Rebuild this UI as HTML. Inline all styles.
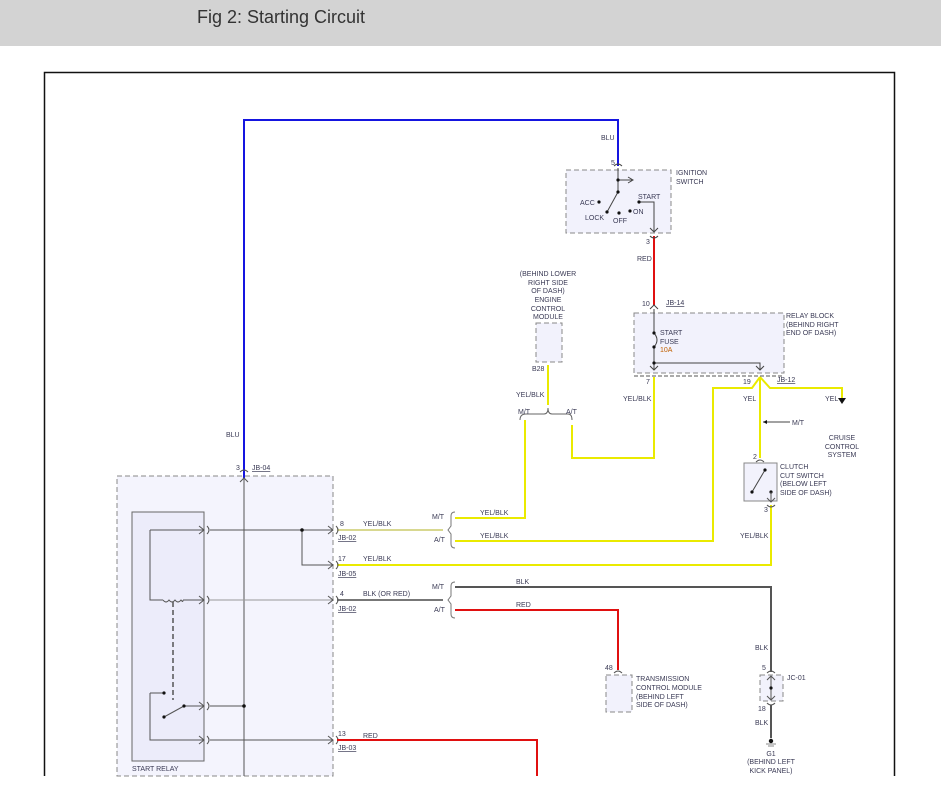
<!DOCTYPE html>
<html><head><meta charset="utf-8"><style>
html,body{margin:0;padding:0;background:#fff;width:941px;height:804px;overflow:hidden}
.hdr{position:absolute;left:0;top:0;width:941px;height:46px;background:#d3d3d3}
.hdr span{position:absolute;left:197px;top:7px;font:18px "Liberation Sans",sans-serif;color:#333}
svg{position:absolute;left:0;top:0}
text{font-family:"Liberation Sans",sans-serif;font-size:7px;fill:#3a3a55}
</style></head><body>
<div class="hdr"><span>Fig 2: Starting Circuit</span></div>
<svg width="941" height="804" viewBox="0 0 941 804">
<!-- frame -->
<path d="M44.5 776 V72.5 H894.5 V776" fill="none" stroke="#111" stroke-width="1.5"/>
<!-- boxes -->
<rect x="566" y="170" width="105" height="63" fill="#f2f2fc" stroke="#888" stroke-dasharray="5,3"/>
<rect x="634" y="313" width="150" height="60" fill="#f2f2fc" stroke="#888" stroke-dasharray="5,3"/>
<rect x="536" y="323" width="26" height="39" fill="#f2f2fc" stroke="#888" stroke-dasharray="5,3"/>
<rect x="744" y="463" width="33" height="38" fill="#f2f2fc" stroke="#888"/>
<rect x="606" y="675" width="26" height="37" fill="#f2f2fc" stroke="#888" stroke-dasharray="5,3"/>
<rect x="760" y="675" width="23" height="26" fill="#f2f2fc" stroke="#888" stroke-dasharray="5,3"/>
<rect x="117" y="476" width="216" height="300" fill="#f4f4fd" stroke="#888" stroke-dasharray="5,3"/>
<rect x="132" y="512" width="72" height="249" fill="#ececfa" stroke="#666"/>

<!-- blue wire -->
<path d="M244 478 V120 H618 V166" fill="none" stroke="#1515e0" stroke-width="2"/>
<!-- red ignition -->
<path d="M654 236 V305" stroke="#e01010" stroke-width="2"/>
<!-- ignition switch internals -->
<g stroke="#444" fill="none" stroke-width="1">
<path d="M618 168 V192 M618 180 H632"/>
<path d="M628 177 L633 180 L628 183"/>
<path d="M618 192 L607 212"/>
<path d="M639 202 H654 V232"/>
<path d="M650 228 L654 232 L658 228"/>
<path d="M614 166 Q618 162 622 166"/>
<path d="M650 236 Q654 240 658 236"/>
</g>
<g fill="#111"><circle cx="618" cy="180" r="1.6"/><circle cx="618" cy="192" r="1.6"/><circle cx="599" cy="202" r="1.6"/><circle cx="607" cy="212" r="1.6"/><circle cx="619" cy="213" r="1.6"/><circle cx="630" cy="211" r="1.6"/><circle cx="639" cy="202" r="1.6"/></g>
<!-- relay block internals -->
<g stroke="#444" fill="none">
<path d="M654 309 V333 M654 347 V370 M654 363 H760 V370"/>
<path d="M654 333 Q660 340 654 347"/>
<path d="M650 366 L654 370 L658 366 M756 366 L760 370 L764 366"/>
<path d="M650 309 L654 305 L658 309"/>
<path d="M634 376 H784" stroke-dasharray="4,2" stroke="#555"/>
</g>
<g fill="#111"><circle cx="654" cy="333" r="1.6"/><circle cx="654" cy="347" r="1.6"/><circle cx="654" cy="363" r="1.6"/></g>
<!-- yellow wires -->
<g fill="none" stroke="#eaea00" stroke-width="2">
<path d="M654 377 V458 H572 V425"/>
<path d="M548 365 V405"/>
<path d="M525 420 V518 H455"/>
<path d="M760 377 L752 388 H713 V541 H455"/>
<path d="M760 377 V458"/>
<path d="M760 377 L770 388 H842 V398"/>
<path d="M771 505 V565 H337"/>
<path d="M337 530 H443" stroke="#d8d890"/>
</g>
<path d="M838 398 H846 L842 404 Z" fill="#111"/>
<path d="M763 422 H790" stroke="#444"/><path d="M767 420 L763 422 L767 424 Z" fill="#111"/>
<!-- ECM brace -->
<path d="M520 420 Q520 414 526 414 H544 Q548 414 548 408 Q548 414 552 414 H568 Q572 414 572 420" fill="none" stroke="#666"/>
<!-- clutch switch -->
<path d="M765 470 L752 492" stroke="#444"/>
<g fill="#111"><circle cx="765" cy="470" r="1.6"/><circle cx="752" cy="492" r="1.6"/><circle cx="771" cy="492" r="1.6"/></g>
<path d="M771 492 V502 M767 498 L771 502 L775 498 M756 462 Q760 458 764 462 M767 505 Q771 509 775 505" fill="none" stroke="#555"/>
<!-- black / red lower -->
<path d="M455 587 H771 V672" fill="none" stroke="#555" stroke-width="2"/>
<path d="M455 610 H618 V670" fill="none" stroke="#e01010" stroke-width="2"/>
<path d="M337 600 H443" stroke="#777" stroke-width="2"/>
<path d="M771 705 V738" stroke="#555" stroke-width="2"/>
<path d="M771 676 V700 M767 680 L771 676 L775 680 M767 696 L771 700 L775 696 M767 673 Q771 669 775 673 M767 703 Q771 707 775 703 M614 673 Q618 669 622 673" fill="none" stroke="#555"/>
<circle cx="771" cy="688" r="1.6" fill="#111"/>
<circle cx="771" cy="741" r="2.2" fill="#111"/><path d="M766 744 H776 M768 746 H774" stroke="#888"/>
<!-- braces -->
<g fill="none" stroke="#777">
<path d="M455 512 Q451 512 451 516 V526 L448 530 L451 534 V544 Q451 548 455 548"/>
<path d="M455 582 Q451 582 451 586 V596 L448 600 L451 604 V614 Q451 618 455 618"/>
</g>
<!-- relay internals -->
<g fill="none" stroke="#555">
<path d="M244 478 V776"/>
<path d="M240 482 L244 478 L248 482 M240 472 Q244 468 248 472"/>
<path d="M150 530 H204 M150 530 V600 H163 M183 600 H204 M163 600 Q166 604 169 600 Q172 604 175 600 Q178 604 181 600 Q183 603 183 600"/>
<path d="M210 530 H333 M302 530 V565 H333"/>
<path d="M210 600 H333" stroke="#999"/>
<path d="M173 602 V700" stroke-dasharray="5,3" stroke-width="1.5"/>
<path d="M150 693 H164 M150 693 V740 H204 M164 717 L184 706 M184 706 H204 M210 706 H244 M210 740 H333"/>
<path d="M199 526 L204 530 L199 534 M199 596 L204 600 L199 604 M199 702 L204 706 L199 710 M199 736 L204 740 L199 744 M207 526 Q211 530 207 534 M207 596 Q211 600 207 604 M207 702 Q211 706 207 710 M207 736 Q211 740 207 744"/>
<path d="M328 526 L333 530 L328 534 M328 561 L333 565 L328 569 M328 596 L333 600 L328 604 M328 736 L333 740 L328 744 M336 526 Q340 530 336 534 M336 561 Q340 565 336 569 M336 596 Q340 600 336 604 M336 736 Q340 740 336 744"/>
</g>
<g fill="#111"><circle cx="302" cy="530" r="1.8"/><circle cx="164" cy="693" r="1.6"/><circle cx="164" cy="717" r="1.6"/><circle cx="184" cy="706" r="1.6"/><circle cx="244" cy="706" r="1.8"/></g>
<path d="M337 740 H537 V776" fill="none" stroke="#e01010" stroke-width="2"/>

<!-- labels -->
<text x="601" y="140">BLU</text>
<text x="226" y="437">BLU</text>
<text x="611" y="165">5</text>
<text x="676" y="175">IGNITION</text><text x="676" y="184">SWITCH</text>
<text x="580" y="205">ACC</text><text x="585" y="220">LOCK</text><text x="613" y="223">OFF</text><text x="633" y="214">ON</text><text x="638" y="199">START</text>
<text x="646" y="244">3</text>
<text x="637" y="261">RED</text>
<text x="642" y="306">10</text>
<text x="666" y="305" style="text-decoration:underline">JB-14</text>
<text x="786" y="318">RELAY BLOCK</text><text x="786" y="327">(BEHIND RIGHT</text><text x="786" y="335">END OF DASH)</text>
<text x="660" y="335">START</text><text x="660" y="344">FUSE</text><text x="660" y="352" style="fill:#c06000">10A</text>
<g text-anchor="middle"><text x="548" y="276">(BEHIND LOWER</text><text x="548" y="285">RIGHT SIDE</text><text x="548" y="293">OF DASH)</text><text x="548" y="302">ENGINE</text><text x="548" y="311">CONTROL</text><text x="548" y="319">MODULE</text>
<text x="842" y="440">CRUISE</text><text x="842" y="449">CONTROL</text><text x="842" y="457">SYSTEM</text>
<text x="771" y="756">G1</text><text x="771" y="764">(BEHIND LEFT</text><text x="771" y="773">KICK PANEL)</text></g>
<text x="532" y="371">B28</text>
<text x="516" y="397">YEL/BLK</text>
<text x="518" y="414">M/T</text><text x="566" y="414">A/T</text>
<text x="646" y="384">7</text>
<text x="623" y="401">YEL/BLK</text>
<text x="743" y="384">19</text>
<text x="777" y="382" style="text-decoration:underline">JB-12</text>
<text x="743" y="401">YEL</text><text x="825" y="401">YEL</text>
<text x="792" y="425">M/T</text>
<text x="753" y="459">2</text>
<text x="780" y="469">CLUTCH</text><text x="780" y="478">CUT SWITCH</text><text x="780" y="486">(BELOW LEFT</text><text x="780" y="495">SIDE OF DASH)</text>
<text x="764" y="512">3</text>
<text x="740" y="538">YEL/BLK</text>
<text x="236" y="470">3</text><text x="252" y="470" style="text-decoration:underline">JB-04</text>
<text x="432" y="519">M/T</text><text x="434" y="542">A/T</text>
<text x="480" y="515">YEL/BLK</text><text x="480" y="538">YEL/BLK</text>
<text x="340" y="526">8</text><text x="363" y="526">YEL/BLK</text><text x="338" y="540" style="text-decoration:underline">JB-02</text>
<text x="338" y="561">17</text><text x="363" y="561">YEL/BLK</text><text x="338" y="576" style="text-decoration:underline">JB-05</text>
<text x="340" y="596">4</text><text x="363" y="596">BLK  (OR RED)</text><text x="338" y="611" style="text-decoration:underline">JB-02</text>
<text x="432" y="589">M/T</text><text x="434" y="612">A/T</text>
<text x="516" y="584">BLK</text><text x="516" y="607">RED</text>
<text x="605" y="670">48</text>
<text x="636" y="681">TRANSMISSION</text><text x="636" y="690">CONTROL MODULE</text><text x="636" y="699">(BEHIND LEFT</text><text x="636" y="707">SIDE OF DASH)</text>
<text x="755" y="650">BLK</text>
<text x="762" y="670">5</text><text x="787" y="680">JC-01</text>
<text x="758" y="711">18</text>
<text x="755" y="725">BLK</text>
<text x="338" y="736">13</text><text x="363" y="738">RED</text><text x="338" y="750" style="text-decoration:underline">JB-03</text>
<text x="132" y="771">START RELAY</text>
</svg>
</body></html>
